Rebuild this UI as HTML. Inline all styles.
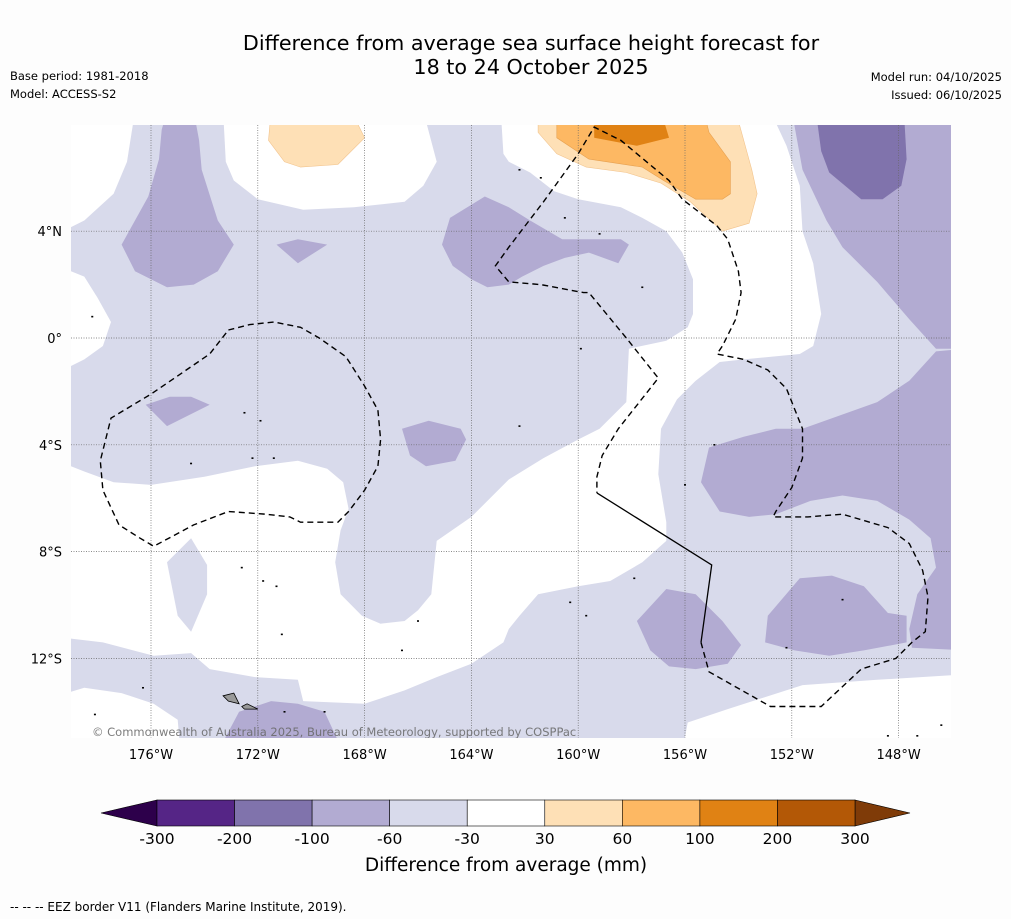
<!DOCTYPE html>
<html><head><meta charset="utf-8">
<style>
html,body{margin:0;padding:0;background:#fdfdfd;}
body{width:1011px;height:919px;overflow:hidden;font-family:"DejaVu Sans","Liberation Sans",sans-serif;}
svg{display:block;font-family:"DejaVu Sans","Liberation Sans",sans-serif;}
</style></head>
<body>
<svg id="chart" width="1011" height="919" viewBox="0 0 1011 919">
<rect x="0" y="0" width="1011" height="919" fill="#fdfdfd"/>
<text x="531" y="50" font-size="20.7" text-anchor="middle" fill="#000">Difference from average sea surface height forecast for</text>
<text x="531" y="74" font-size="20.7" text-anchor="middle" fill="#000">18 to 24 October 2025</text>
<text x="10" y="80" font-size="11.5" fill="#000">Base period: 1981-2018</text>
<text x="10" y="98" font-size="11.5" fill="#000">Model: ACCESS-S2</text>
<text x="1002" y="81" font-size="11.5" text-anchor="end" fill="#000">Model run: 04/10/2025</text>
<text x="1002" y="99" font-size="11.5" text-anchor="end" fill="#000">Issued: 06/10/2025</text>
<defs><clipPath id="mapclip"><rect x="71" y="125" width="880" height="613"/></clipPath></defs>
<g id="map" clip-path="url(#mapclip)"></g>
<g id="axes"></g>
<g id="cbar"></g>
<text x="506" y="871" font-size="18.5" text-anchor="middle" fill="#000">Difference from average (mm)</text>
<text x="10" y="911" font-size="12" fill="#000">--  --  -- EEZ border V11 (Flanders Marine Institute, 2019).</text>
</svg>
<script>
// ---- data ----
const lonTicks = [-176,-172,-168,-164,-160,-156,-152,-148];
const latTicks = [4,0,-4,-8,-12];
const latTickLabels = ["4°N","0°","4°S","8°S","12°S"];
const cbarLevels = [-300,-200,-100,-60,-30,30,60,100,200,300];
const cbarColors = ["#552586","#8073ac","#b2abd2","#d8daeb","#ffffff","#fee0b6","#fdb863","#e08214","#b35806"];
const cbarUnder = "#2d004b";
const cbarOver = "#7f3b08";
const whiteRegions = [
 [[-179.5,8.5],[-176.6,8.5],[-176.9,6.6],[-177.4,5.4],[-178.5,4.4],[-179.5,3.9]],
 [[-179.5,2.7],[-178.5,2.3],[-178.0,1.5],[-177.5,0.6],[-177.8,-0.3],[-178.5,-0.8],[-179.5,-1.3]],
 [[-173.3,8.5],[-173.2,6.6],[-172.9,5.9],[-172.0,5.2],[-170.3,4.8],[-168.4,4.9],[-166.5,5.1],[-165.8,5.7],[-165.3,6.6],[-165.8,8.5]],
 [[-162.9,8.5],[-162.8,6.9],[-162.6,6.6],[-161.8,6.2],[-160.9,5.5],[-160.0,5.2],[-158.4,4.9],[-157.6,4.5],[-156.7,4.0],[-156.1,3.2],[-155.7,2.2],[-155.7,0.9],[-155.9,0.4],[-156.7,-0.1],[-158.1,-0.4],[-158.2,-2.4],[-159.2,-3.4],[-160.0,-3.8],[-161.3,-4.5],[-162.6,-5.3],[-164.0,-6.7],[-165.3,-7.6],[-165.5,-9.6],[-166.0,-10.2],[-166.5,-10.6],[-167.4,-10.7],[-168.1,-10.4],[-168.9,-9.6],[-169.1,-8.4],[-168.9,-7.2],[-168.6,-6.4],[-168.8,-5.4],[-169.4,-4.9],[-170.5,-4.6],[-172.1,-4.8],[-174.0,-5.2],[-176.0,-5.5],[-177.4,-5.4],[-178.5,-5.0],[-179.5,-4.6],[-179.5,-11.2],[-177.8,-11.4],[-175.9,-11.9],[-174.5,-11.8],[-173.8,-12.4],[-172.1,-12.7],[-170.5,-12.8],[-170.3,-13.6],[-168.0,-13.7],[-166.5,-13.2],[-165.3,-12.7],[-164.0,-12.2],[-162.8,-11.4],[-162.6,-10.9],[-162.2,-10.4],[-161.5,-9.6],[-160.0,-9.3],[-158.8,-9.1],[-157.6,-8.4],[-156.7,-7.6],[-156.7,-6.9],[-157.0,-5.1],[-156.9,-3.4],[-156.3,-2.3],[-155.6,-1.6],[-154.7,-0.9],[-153.8,-0.8],[-151.7,-0.6],[-151.2,-0.3],[-150.9,0.9],[-151.2,2.8],[-151.6,4.0],[-151.7,5.7],[-152.2,7.2],[-152.8,8.5]],
 [[-179.5,-13.4],[-178.5,-13.1],[-177.1,-13.3],[-175.9,-13.7],[-175.0,-14.3],[-174.9,-15.5],[-179.5,-15.5]],
 [[-156.1,-15.5],[-155.9,-14.4],[-154.4,-13.9],[-151.6,-13.0],[-148.8,-12.8],[-145.5,-12.6],[-145.5,-15.5]]
];
const lavenderIslands = [
 [[-174.5,-7.5],[-173.9,-8.5],[-173.9,-9.6],[-174.5,-11.0],[-175.0,-10.4],[-175.4,-8.4]]
];
const purpleRegions = [
 [[-175.6,7.8],[-175.4,8.5],[-174.4,8.5],[-174.2,7.4],[-174.1,6.3],[-173.5,4.4],[-172.9,3.5],[-173.5,2.5],[-174.4,2.0],[-175.4,1.9],[-176.0,2.2],[-176.6,2.5],[-177.1,3.5],[-176.1,5.3],[-175.7,6.7]],
 [[-171.3,3.5],[-170.5,3.7],[-169.4,3.5],[-170.5,2.8]],
 [[-176.2,-2.5],[-175.3,-2.2],[-174.5,-2.2],[-173.8,-2.5],[-175.4,-3.3]],
 [[-166.6,-3.4],[-165.6,-3.1],[-164.4,-3.4],[-164.2,-3.8],[-164.6,-4.6],[-165.7,-4.8],[-166.3,-4.4]],
 [[-165.1,3.5],[-164.8,4.5],[-163.5,5.3],[-162.6,4.9],[-161.8,4.4],[-160.6,3.7],[-158.4,3.7],[-158.1,3.5],[-158.5,2.8],[-159.6,3.2],[-160.5,3.0],[-161.3,2.7],[-162.1,2.3],[-162.6,2.0],[-163.4,1.9],[-164.0,2.2],[-164.7,2.7]],
 [[-152.0,8.5],[-151.6,6.3],[-150.7,4.4],[-150.1,3.4],[-148.8,2.1],[-147.6,0.7],[-146.6,-0.4],[-145.5,-0.4],[-145.5,8.5]],
 [[-155.1,-4.1],[-153.8,-3.7],[-152.6,-3.4],[-151.6,-3.4],[-148.8,-2.4],[-147.6,-1.6],[-146.6,-0.5],[-145.5,-0.4],[-145.5,-11.7],[-147.5,-11.6],[-147.6,-10.9],[-147.3,-9.6],[-146.6,-8.6],[-146.8,-7.5],[-147.6,-6.8],[-148.8,-6.1],[-150.1,-5.9],[-151.3,-6.1],[-152.6,-6.6],[-153.6,-6.7],[-154.7,-6.5],[-155.4,-5.4]],
 [[-152.9,-10.4],[-151.7,-9.0],[-150.5,-8.9],[-149.3,-9.3],[-148.4,-10.3],[-147.7,-10.4],[-147.7,-11.4],[-149.3,-11.7],[-150.6,-11.9],[-151.9,-11.7],[-153.0,-11.4]],
 [[-157.8,-10.6],[-156.7,-9.4],[-155.6,-9.6],[-154.6,-10.6],[-153.9,-11.5],[-154.4,-12.2],[-155.6,-12.4],[-156.6,-12.3],[-157.3,-11.7]],
 [[-173.5,-15.5],[-172.7,-14.0],[-171.5,-13.6],[-170.5,-13.7],[-169.5,-14.0],[-168.8,-15.5]]
];
const darkPurpleRegions = [
 [[-151.1,8.5],[-150.9,7.0],[-150.6,6.2],[-149.4,5.2],[-148.6,5.2],[-147.9,5.7],[-147.7,6.7],[-147.8,8.5]]
];
const lightOrangeRegions = [
 [[-171.5,8.5],[-171.6,7.4],[-171.0,6.6],[-170.4,6.4],[-169.0,6.5],[-168.0,7.5],[-168.5,8.5]],
 [[-161.5,8.5],[-161.5,7.7],[-160.8,6.9],[-159.7,6.4],[-158.2,6.2],[-156.9,5.8],[-155.8,5.1],[-154.6,4.0],[-153.6,4.3],[-153.3,5.4],[-153.5,6.3],[-154.1,8.5]]
];
const orangeRegions = [
 [[-160.8,8.5],[-160.8,7.5],[-159.6,6.7],[-157.6,6.4],[-156.8,5.9],[-155.6,5.2],[-154.6,5.2],[-154.3,5.4],[-154.3,6.6],[-155.1,7.7],[-155.3,8.5]]
];
const darkOrangeRegions = [
 [[-159.4,8.5],[-159.4,7.5],[-157.8,7.2],[-156.6,7.5],[-156.9,8.5]]
];
const eezDashedA = [[-173.1,0.3],[-172.3,0.5],[-171.4,0.6],[-170.4,0.4],[-169.7,0.0],[-168.7,-0.7],[-168.0,-1.8],[-167.5,-2.7],[-167.4,-3.8],[-167.5,-4.8],[-168.0,-5.7],[-168.6,-6.5],[-169.0,-6.9],[-170.4,-6.9],[-170.8,-6.7],[-171.7,-6.6],[-173.1,-6.5],[-174.4,-7.0],[-175.9,-7.8],[-176.4,-7.5],[-177.2,-7.0],[-177.8,-5.7],[-177.9,-4.6],[-177.5,-3.0],[-176.0,-2.1],[-173.8,-0.6],[-173.1,0.3]];
const eezDashedB = [[-155.4,-11.4],[-155.1,-12.5],[-152.8,-13.8],[-150.9,-13.8],[-149.4,-12.4],[-148.1,-12.0],[-147.5,-11.4],[-147.0,-11.0],[-146.9,-9.7],[-147.1,-8.7],[-147.6,-7.7],[-148.4,-7.1],[-150.1,-6.6],[-151.4,-6.7],[-152.7,-6.7],[-152.6,-6.5],[-152.0,-5.6],[-151.6,-4.5],[-151.6,-3.4],[-152.2,-1.9],[-152.9,-1.2],[-153.8,-0.8],[-154.8,-0.6],[-154.6,-0.3],[-154.1,0.7],[-153.9,1.7],[-154.0,2.5],[-154.4,3.7],[-154.8,4.2],[-156.1,5.2],[-156.6,5.9],[-158.4,7.4],[-159.4,7.9],[-160.0,6.9],[-161.3,5.1],[-162.6,3.4],[-163.1,2.7],[-162.6,2.1],[-161.4,2.0],[-159.8,1.7],[-159.6,1.7],[-158.2,0.0],[-157.0,-1.5],[-158.5,-3.4],[-159.1,-4.4],[-159.3,-5.2],[-159.3,-5.8]];
const eezSolid = [[-159.3,-5.8],[-155.0,-8.5],[-155.4,-11.4]];
const samoaIslands = [
 [[-173.3,-13.4],[-172.9,-13.3],[-172.7,-13.7],[-173.1,-13.6]],
 [[-172.6,-13.8],[-172.4,-13.7],[-172.0,-13.9],[-172.5,-13.9]]
];
const smallIslands = [[-178.2,0.8],[-172.5,-2.8],[-171.9,-3.1],[-174.5,-4.7],[-172.2,-4.5],[-171.4,-4.5],[-172.6,-8.6],[-171.8,-9.1],[-171.3,-9.3],[-171.1,-11.1],[-166.0,-10.6],[-166.6,-11.7],[-176.3,-13.1],[-178.1,-14.1],[-171.0,-14.0],[-169.5,-14.0],[-162.2,-3.3],[-160.3,-9.9],[-159.7,-10.4],[-157.9,-9.0],[-156.0,-5.5],[-154.9,-4.0],[-161.4,6.0],[-162.2,6.3],[-160.5,4.5],[-159.2,3.9],[-157.6,1.9],[-159.9,-0.4],[-150.1,-9.8],[-152.2,-11.6],[-146.4,-14.5],[-147.3,-14.9],[-148.4,-14.9]];
// ---- scales ----
const X0=151, Y0=338, K=26.7;
function xs(lon){return X0+(lon+176)*K;}
function ys(lat){return Y0-lat*K;}
const NS="http://www.w3.org/2000/svg";
function mk(tag,attrs,parent){const e=document.createElementNS(NS,tag);for(const k in attrs)e.setAttribute(k,attrs[k]);parent.appendChild(e);return e;}
function pts(arr){return arr.map(p=>xs(p[0]).toFixed(1)+","+ys(p[1]).toFixed(1)).join(" ");}
const map=document.getElementById('map');
const bg=mk('rect',{x:71,y:125,width:880,height:613,fill:cbarColors[3]},map);


function drawRegions(list,color,name,stroke){
 list.forEach(function(r){
  const e=mk('polygon',{points:pts(r),fill:color,stroke:stroke||'none','stroke-width':stroke?0.6:0},map);
  
  
 });
}
drawRegions(whiteRegions,cbarColors[4],'contour-level-near-average');
drawRegions(lavenderIslands,cbarColors[3],'contour-level-minus60-minus30');
drawRegions(purpleRegions,cbarColors[2],'contour-level-minus100-minus60');
drawRegions(darkPurpleRegions,cbarColors[1],'contour-level-minus200-minus100');
drawRegions(lightOrangeRegions,cbarColors[5],'contour-level-30-60','#f2c48e');
drawRegions(orangeRegions,cbarColors[6],'contour-level-60-100','#e6a050');
drawRegions(darkOrangeRegions,cbarColors[7],'contour-level-100-200');
lonTicks.forEach(function(l){
 const g=mk('line',{x1:xs(l),x2:xs(l),y1:125,y2:738,stroke:'#666','stroke-width':0.7,'stroke-dasharray':'1,1.5'},map);
 
 
});
latTicks.forEach(function(l){
 const g=mk('line',{x1:71,x2:951,y1:ys(l),y2:ys(l),stroke:'#666','stroke-width':0.7,'stroke-dasharray':'1,1.5'},map);
 
 
});
[eezDashedA,eezDashedB].forEach(function(l){
 const e=mk('polyline',{points:pts(l),fill:'none',stroke:'#000','stroke-width':1.4,'stroke-dasharray':'6,4'},map);
 
 
});
const sl=mk('polyline',{points:pts(eezSolid),fill:'none',stroke:'#000','stroke-width':1.3},map);


samoaIslands.forEach(function(r){
 const e=mk('polygon',{points:pts(r),fill:'#999',stroke:'#000','stroke-width':0.8},map);
 
 
});
smallIslands.forEach(function(p){
 const e=mk('rect',{x:xs(p[0])-1,y:ys(p[1])-0.8,width:2,height:1.6,fill:'#000'},map);
 
 
});
const cp=mk('text',{x:92,y:736,'font-size':11.5,fill:'#666','fill-opacity':0.85},map);
cp.textContent='© Commonwealth of Australia 2025, Bureau of Meteorology, supported by COSPPac';


const axes=document.getElementById('axes');
lonTicks.forEach(function(l){
 const t=mk('text',{x:xs(l),y:759,'font-size':13,'text-anchor':'middle',fill:'#000'},axes);
 t.textContent=Math.abs(l)+'°W';
 
 
});
latTicks.forEach(function(l,i){
 const t=mk('text',{x:62,y:ys(l)+5,'font-size':13,'text-anchor':'end',fill:'#000'},axes);
 t.textContent=latTickLabels[i];
 
 
});
const cb=document.getElementById('cbar');
const CBX0=157, CBX1=855, CBY=800, CBH=26;
const bw=(CBX1-CBX0)/cbarColors.length;
const under=mk('polygon',{points:(CBX0)+','+CBY+' '+(CBX0)+','+(CBY+CBH)+' 101,'+(CBY+CBH/2),fill:cbarUnder,stroke:'#000','stroke-width':0.6},cb);


const over=mk('polygon',{points:(CBX1)+','+CBY+' '+(CBX1)+','+(CBY+CBH)+' 910,'+(CBY+CBH/2),fill:cbarOver,stroke:'#000','stroke-width':0.6},cb);


cbarColors.forEach(function(c,i){
 const r=mk('rect',{x:CBX0+i*bw,y:CBY,width:bw,height:CBH,fill:c,stroke:'#000','stroke-width':0.6},cb);
 
 
});
cbarLevels.forEach(function(v,i){
 const t=mk('text',{x:CBX0+i*bw,y:844,'font-size':15.5,'text-anchor':'middle',fill:'#000'},cb);
 t.textContent=String(v);
 
 
});
</script>
</body></html>
